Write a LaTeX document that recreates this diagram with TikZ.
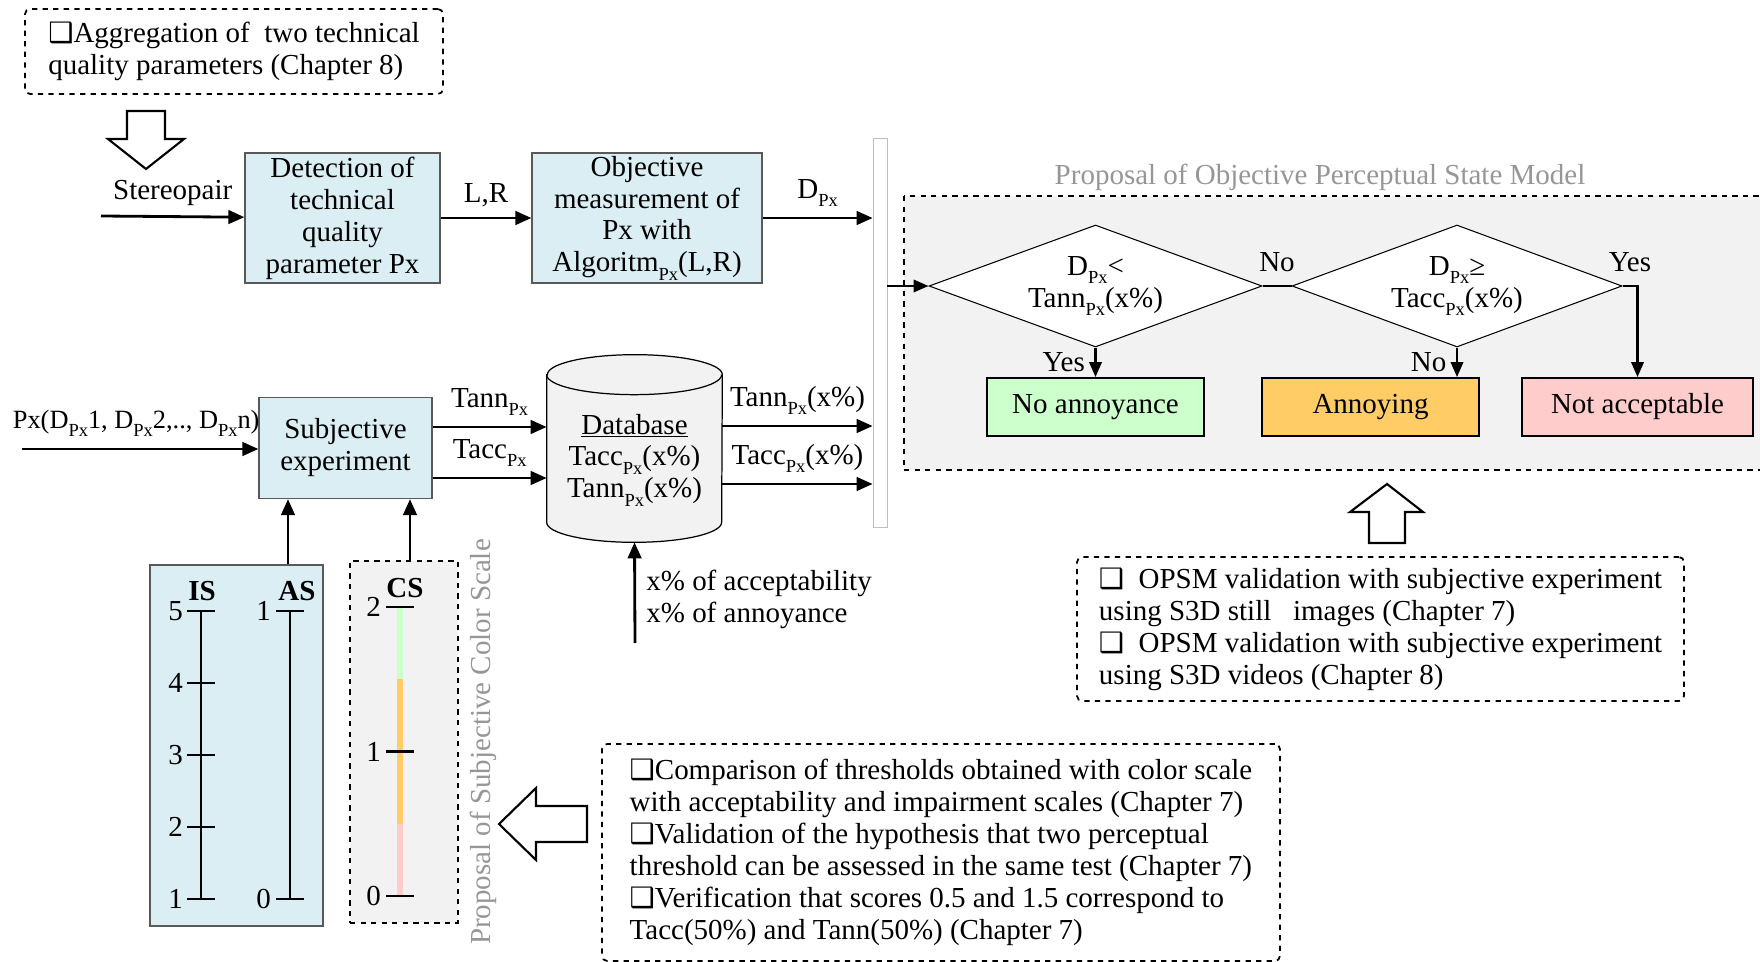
\documentclass[tikz,border=0pt]{standalone}
\usepackage{fontspec}
\setmainfont{Liberation Serif}
\newfontfamily\symfont{DejaVu Sans}
\usetikzlibrary{arrows.meta,shapes.geometric}
\definecolor{boxblue}{RGB}{218,238,243}
\definecolor{panelgray}{RGB}{242,242,242}
\definecolor{okgreen}{RGB}{204,255,204}
\definecolor{annorange}{RGB}{255,204,102}
\definecolor{badpink}{RGB}{255,204,204}
\definecolor{titlegray}{RGB}{150,150,150}
\newcommand{\Px}{\raisebox{-0.28em}{\fontsize{10.5}{12}\selectfont Px}}
\newcommand{\chk}{{\symfont\fontsize{16}{18}\selectfont ❑}}
\begin{document}
\fontsize{16.5}{18.2}\selectfont
\begin{tikzpicture}[x=0.02cm, y=-0.02cm,
    arr/.style={line width=1.6pt, -{Triangle[length=0.32cm,width=0.27cm]}},
    flow/.style={line width=1.2pt, -{Triangle[length=0.3cm,width=0.25cm]}},
    bluebox/.style={draw=black!65, line width=0.7pt, fill=boxblue, align=center, inner sep=0pt},
    resbox/.style={draw, line width=1.1pt, minimum width=#1, minimum height=1.16cm},
    note/.style={draw, dashed, line width=1pt, rounded corners=0.1cm, align=left, inner sep=0pt},
    decision/.style={diamond, draw, fill=white, line width=0.6pt, aspect=2.7, inner sep=0pt, align=center},
    hollow/.style={draw, line width=1.2pt, fill=white},
    axis/.style={line width=1.4pt},
    ]
    \useasboundingbox (0,0) rectangle (1760,962);
    \clip (0,0) rectangle (1760,962);

    \node[note, minimum width=8.36cm, minimum height=1.7cm] (aggr) at (234,51.5) {\chk Aggregation of\ \ two technical\\quality parameters (Chapter 8)};
    \draw[hollow] (127,111) -- (165,111) -- (165,139) -- (184,139) -- (146,169) -- (108,139) -- (127,139) -- cycle;

    \coordinate (src) at (101,216);
    \node[bluebox, minimum width=3.9cm, minimum height=2.6cm] (detect) at (342.5,218) {Detection of\\technical\\quality\\parameter Px};
    \node[bluebox, minimum width=4.6cm, minimum height=2.6cm] (objm) at (647,218) {Objective\\measurement of\\Px with\\Algoritm\Px(L,R)};
    \node[draw=black!25, fill=white, minimum width=0.28cm, minimum height=7.78cm, inner sep=0pt] (bar) at (880,332.5) {};
    \draw[arr] (src) -- node[above] {Stereopair} (detect);
    \draw[arr] (detect) -- node[above] {L,R} (objm);
    \draw[arr] (objm) -- node[above] {D\Px} (objm -| bar.west);

    \coordinate (pxin) at (22,449);
    \node[bluebox, minimum width=3.46cm, minimum height=2.02cm] (subj) at (345.5,448) {Subjective\\experiment};
    \draw[arr] (pxin) -- node[above=1pt, xshift=-0.08cm, font=\fontsize{15}{17}\selectfont] {Px(D\Px1, D\Px2,.., D\Px n)} (pxin -| subj.west);

    \node[minimum width=3.5cm, minimum height=3.74cm, inner sep=0pt] (db) at (634.5,448.5) {};
    \draw[line width=0.7pt, fill=panelgray] ([yshift=-0.4cm]db.north west) -- ([yshift=0.4cm]db.south west)
        arc[start angle=180, end angle=360, x radius=1.75cm, y radius=0.4cm] -- ([yshift=-0.4cm]db.north east)
        arc[start angle=0, end angle=180, x radius=1.75cm, y radius=0.4cm] -- cycle;
    \draw[line width=0.7pt] ([yshift=-0.4cm]db.north west) arc[start angle=180, end angle=360, x radius=1.75cm, y radius=0.4cm];
    \node[align=center] (dbtext) at (634.5,460) {\underline{Database}\\Tacc\Px(x\%)\\Tann\Px(x\%)};

    \coordinate (tannrow) at (0,427);
    \coordinate (taccrow) at (0,478);
    \draw[arr] (subj.east |- tannrow) -- node[above] {Tann\Px} (db.west |- tannrow);
    \draw[arr] (subj.east |- taccrow) -- node[above] {Tacc\Px} (db.west |- taccrow);
    \coordinate (outtann) at (0,426);
    \coordinate (outtacc) at (0,484);
    \draw[arr] (db.east |- outtann) -- node[above] {Tann\Px(x\%)} (bar.west |- outtann);
    \draw[arr] (db.east |- outtacc) -- node[above] {Tacc\Px(x\%)} (bar.west |- outtacc);

    \coordinate (pct) at (635,643);
    \draw[arr] (pct) -- (db.south);
    \node[anchor=west, align=left, inner sep=0pt] (pcttext) at (646,599) {x\% of acceptability\\x\% of annoyance};

    \node[draw=black!65, line width=0.7pt, fill=boxblue, minimum width=3.46cm, minimum height=7.22cm] (isas) at (236.5,745.5) {};
    \node[draw, dashed, line width=1pt, fill=panelgray, minimum width=2.16cm, minimum height=7.24cm] (cspanel) at (404,742) {};
    \draw[arr] (isas.north -| 288,0) -- (subj.south -| 288,0);
    \draw[arr] (cspanel.north -| 410,0) -- (subj.south -| 410,0);

    \draw[axis] (201,611) -- (201,899);
    \foreach \v/\y in {5/611,4/683,3/755,2/827,1/899} {
        \draw[axis] (187,\y) -- (215,\y);
        \node[anchor=east, inner sep=1pt] (is\v) at (185,\y) {\v};
    }
    \node[font=\bfseries] (islabel) at (202,591) {IS};
    \draw[axis] (290,611) -- (290,899);
    \foreach \v/\y in {1/611,0/899} {
        \draw[axis] (276,\y) -- (304,\y);
        \node[anchor=east, inner sep=1pt] (as\v) at (273,\y) {\v};
    }
    \node[font=\bfseries] (aslabel) at (297,591) {AS};

    \draw[line width=0.12cm, okgreen] (400,607) -- (400,679);
    \draw[line width=0.12cm, annorange] (400,679) -- (400,824);
    \draw[line width=0.12cm, badpink] (400,824) -- (400,896);
    \foreach \v/\y in {2/607,1/751.5,0/896} {
        \draw[axis] (386,\y) -- (414,\y);
        \node[anchor=east, inner sep=1pt] (cs\v) at (383,\y) {\v};
    }
    \node[font=\bfseries] (cslabel) at (405,588) {CS};
    \node[rotate=90, text=titlegray] (cstitle) at (483,742) {Proposal of Subjective Color Scale};

    \draw[hollow] (587,806) -- (536,806) -- (536,788) -- (499,824) -- (536,860) -- (536,842) -- (587,842) -- cycle;
    \node[note, minimum width=13.56cm, minimum height=4.34cm] (checks) at (941,852.5) {\chk Comparison of thresholds obtained with color scale\\with acceptability and impairment scales (Chapter 7)\\\chk Validation of the hypothesis that two perceptual\\threshold can be assessed in the same test (Chapter 7)\\\chk Verification that scores 0.5 and 1.5 correspond to\\Tacc(50\%) and Tann(50\%) (Chapter 7)};

    \draw[dashed, line width=1pt, fill=panelgray] (904,196) rectangle (1790,470);
    \node[text=titlegray] (opsmtitle) at (1320,177) {Proposal of Objective Perceptual State Model};
    \node[decision, minimum width=6.66cm, minimum height=2.44cm] (cmpann) at (1095.5,286) {D\Px<\\Tann\Px(x\%)};
    \node[decision, minimum width=6.6cm, minimum height=2.44cm] (cmpacc) at (1457,286) {D\Px≥\\Tacc\Px(x\%)};
    \node[resbox=4.34cm, fill=okgreen] (noann) at (1095.5,407) {No annoyance};
    \node[resbox=4.34cm, fill=annorange] (annoying) at (1370.5,407) {Annoying};
    \node[resbox=4.62cm, fill=badpink] (notacc) at (1637.5,407) {Not acceptable};
    \draw[flow] (bar.east |- cmpann.west) -- (cmpann.west);
    \draw[line width=1.1pt] (cmpann.east) -- node[above=2pt] {No} (cmpacc.west);
    \draw[flow] (cmpann.south) -- node[left] {Yes} (noann.north);
    \draw[flow] (cmpacc.south) -- node[left] {No} (cmpacc.south |- annoying.north);
    \draw[flow] (cmpacc.east) -- node[above=2pt] {Yes} (cmpacc.east -| notacc.north) -- (notacc.north);

    \draw[hollow] (1369,543) -- (1369,512) -- (1350,512) -- (1387,484) -- (1423,512) -- (1405,512) -- (1405,543) -- cycle;
    \node[note, minimum width=12.14cm, minimum height=2.88cm] (valid) at (1380.5,629) {\chk\ \ OPSM validation with subjective experiment\\using S3D still\ \ \ images (Chapter 7)\\\chk\ \ OPSM validation with subjective experiment\\using S3D videos (Chapter 8)};
\end{tikzpicture}
\end{document}
